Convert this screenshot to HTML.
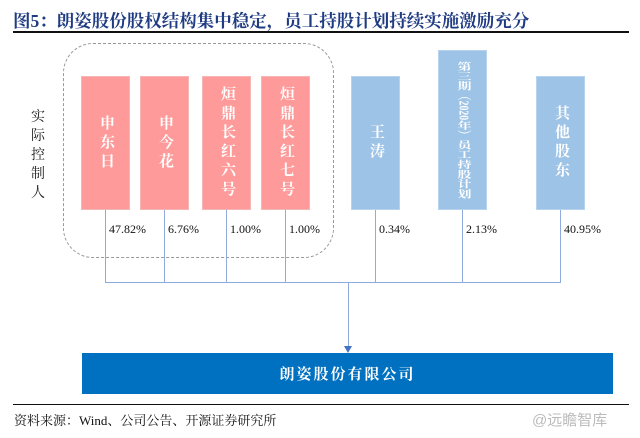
<!DOCTYPE html>
<html><head><meta charset="utf-8"><style>
body{margin:0;width:640px;height:438px;background:#fff;position:relative;overflow:hidden;font-family:"Liberation Serif","Noto Serif CJK SC",serif}
.a{position:absolute}
.box{position:absolute;color:#fff;display:flex;align-items:center;justify-content:center;font-size:15px;font-weight:bold;writing-mode:vertical-rl;text-orientation:mixed;line-height:1;letter-spacing:4px}
.pink{background:#ff9a9a;border:1px solid #f6b6b6;box-sizing:border-box}
.blue{background:#9dc3e6;border:1px solid #b8d3ee;box-sizing:border-box}
.pct{position:absolute;font-size:12px;color:#111;top:222px}
.vl{position:absolute;width:1px;background:#8faadc}
</style></head><body>
<div class="a" style="left:13px;top:8px;font-size:17.5px;font-weight:bold;color:#1f3b82;font-family:'Liberation Serif','Noto Serif CJK SC',serif">图5：朗姿股份股权结构集中稳定，员工持股计划持续实施激励充分</div>
<div class="a" style="left:13px;top:31px;width:616px;height:2px;background:#111"></div>
<div class="a" style="left:63px;top:43px;width:271px;height:215px;border:1.5px dashed #999;border-radius:30px;box-sizing:border-box"></div>
<div class="a" style="left:31px;top:108px;width:14px;font-size:14px;line-height:19px;color:#222">实际控制人</div>
<div id="g"></div>
<div class="vl" style="left:348px;top:282px;height:66px"></div>
<div class="a" style="left:344px;top:346px;width:0;height:0;border-left:4.5px solid transparent;border-right:4.5px solid transparent;border-top:7px solid #4472c4"></div>
<div class="a" style="left:82px;top:353px;width:531px;height:41px;background:#0070c0;color:#fff;font-size:15px;font-weight:bold;display:flex;align-items:center;justify-content:center;letter-spacing:2px">朗姿股份有限公司</div>
<div class="a" style="left:13px;top:404px;width:616px;height:1px;background:#111"></div>
<div class="a" style="left:14px;top:410px;font-size:13px;color:#111">资料来源：Wind、公司公告、开源证券研究所</div>
<div class="a" style="left:532px;top:409px;font-size:15px;color:#bbb;font-family:'Liberation Sans','Noto Sans CJK SC',sans-serif">@远瞻智库</div>
<script>
const names=["申东日","申今花","烜鼎长红六号","烜鼎长红七号","王涛","第三期（2020年）员工持股计划","其他股东"];
const shares=["47.82%","6.76%","1.00%","1.00%","0.34%","2.13%","40.95%"];
const kinds=["pink","pink","pink","pink","blue","blue","blue"];
const lefts=[81,140,202,261,351,438,536];
const tops=[76,76,76,76,76,50,76];
const g=document.getElementById('g');
function add(cls,style,txt){const d=document.createElement('div');d.className=cls;d.style.cssText=style;if(txt)d.textContent=txt;g.appendChild(d);return d;}
names.forEach((n,i)=>{
  const b=add('box '+kinds[i],`left:${lefts[i]}px;top:${tops[i]}px;width:49px;height:${210-tops[i]}px;${i==5?'font-size:14px;letter-spacing:0;':''}`);
  const s=document.createElement('span');
  s.textContent=n;
  if(i==5){s.style.display='inline-block';s.style.whiteSpace='nowrap';s.style.transform='scale(1,0.7)';}
  b.appendChild(s);
  
  
  const x=lefts[i]+24;
  const l=add('vl',`left:${x}px;top:210px;height:72px`);
  
  
  const p=add('pct',`left:${x+4}px`,shares[i]);
  
  
});
const h=add('a',`left:${lefts[0]+24}px;top:282px;width:${lefts[6]-lefts[0]+1}px;height:1px;background:#8faadc`);


</script>
</body></html>
